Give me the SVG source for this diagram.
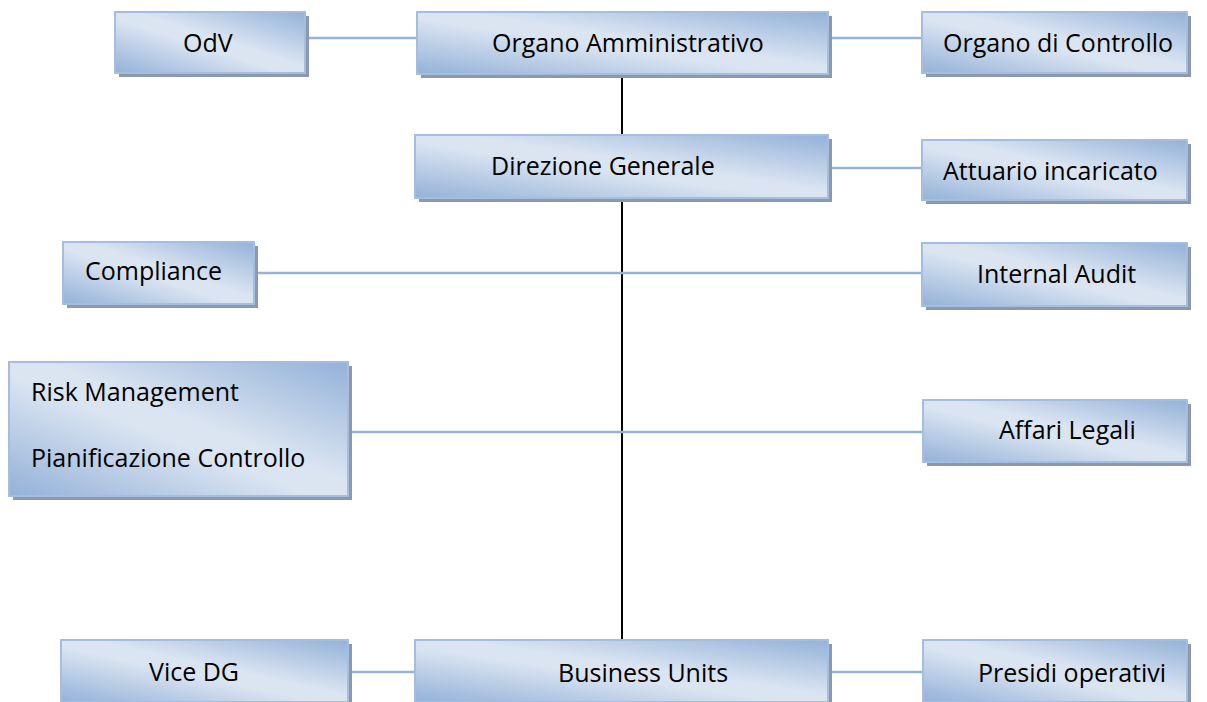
<svg xmlns="http://www.w3.org/2000/svg" width="1207" height="702" viewBox="0 0 1207 702">
  <defs>
    <!-- diagonal light-blue fill: darker at bottom-left and top-right corners -->
    <linearGradient id="boxFill" x1="0" y1="1" x2="1" y2="0">
      <stop offset="0" stop-color="#93b1d8"/>
      <stop offset="0.45" stop-color="#dbe5f2"/>
      <stop offset="0.55" stop-color="#dbe5f2"/>
      <stop offset="1" stop-color="#93b1d8"/>
    </linearGradient>
  </defs>
  <style>
    .shadow { fill: #8d99aa; }
    .box { fill: url(#boxFill); stroke: #a3bee0; stroke-width: 2; }
    .label { font-family: "Open Sans", "Liberation Sans", sans-serif; font-size: 25px; fill: #000; }
    .link { stroke: #95b3d7; stroke-width: 2.5; fill: none; }
    .trunk { stroke: #000; stroke-width: 2; fill: none; }
  </style>
  <rect width="1207" height="702" fill="#fff"/>

  <g id="connectors">
    <line class="trunk" x1="622" y1="74" x2="622" y2="640"/>
    <line class="link" x1="305" y1="38" x2="417" y2="38"/>
    <line class="link" x1="828" y1="38" x2="922" y2="38"/>
    <line class="link" x1="828" y1="168" x2="922" y2="168"/>
    <line class="link" x1="254" y1="273" x2="922" y2="273"/>
    <line class="link" x1="348" y1="432" x2="923" y2="432"/>
    <line class="link" x1="348" y1="672" x2="415" y2="672"/>
    <line class="link" x1="828" y1="672" x2="923" y2="672"/>
  </g>

  <g id="odv">
    <rect class="shadow" x="119" y="16" width="190" height="61"/>
    <rect class="box" x="115" y="12" width="190" height="61"/>
    <text class="label" x="183" y="52">OdV</text>
  </g>
  <g id="organo-amministrativo">
    <rect class="shadow" x="421" y="16" width="411" height="62"/>
    <rect class="box" x="417" y="12" width="411" height="62"/>
    <text class="label" x="492" y="52">Organo Amministrativo</text>
  </g>
  <g id="organo-controllo">
    <rect class="shadow" x="926" y="16" width="265" height="61"/>
    <rect class="box" x="922" y="12" width="265" height="61"/>
    <text class="label" x="943" y="52">Organo di Controllo</text>
  </g>
  <g id="direzione-generale">
    <rect class="shadow" x="419" y="139" width="413" height="63"/>
    <rect class="box" x="415" y="135" width="413" height="63"/>
    <text class="label" x="491" y="175">Direzione Generale</text>
  </g>
  <g id="attuario">
    <rect class="shadow" x="926" y="144" width="265" height="60"/>
    <rect class="box" x="922" y="140" width="265" height="60"/>
    <text class="label" x="943" y="180">Attuario incaricato</text>
  </g>
  <g id="compliance">
    <rect class="shadow" x="67" y="246" width="191" height="62"/>
    <rect class="box" x="63" y="242" width="191" height="62"/>
    <text class="label" x="85" y="280">Compliance</text>
  </g>
  <g id="internal-audit">
    <rect class="shadow" x="926" y="247" width="265" height="63"/>
    <rect class="box" x="922" y="243" width="265" height="63"/>
    <text class="label" x="977" y="283">Internal Audit</text>
  </g>
  <g id="risk-management">
    <rect class="shadow" x="13" y="366" width="339" height="134"/>
    <rect class="box" x="9" y="362" width="339" height="134"/>
    <text class="label" x="31" y="401">Risk Management</text>
    <text class="label" x="31" y="467">Pianificazione Controllo</text>
  </g>
  <g id="affari-legali">
    <rect class="shadow" x="927" y="404" width="264" height="62"/>
    <rect class="box" x="923" y="400" width="264" height="62"/>
    <text class="label" x="999" y="439">Affari Legali</text>
  </g>
  <g id="vice-dg">
    <rect class="shadow" x="65" y="644" width="287" height="62"/>
    <rect class="box" x="61" y="640" width="287" height="62"/>
    <text class="label" x="149" y="681">Vice DG</text>
  </g>
  <g id="business-units">
    <rect class="shadow" x="419" y="644" width="413" height="62"/>
    <rect class="box" x="415" y="640" width="413" height="62"/>
    <text class="label" x="558" y="682">Business Units</text>
  </g>
  <g id="presidi-operativi">
    <rect class="shadow" x="927" y="644" width="264" height="62"/>
    <rect class="box" x="923" y="640" width="264" height="62"/>
    <text class="label" x="978" y="682">Presidi operativi</text>
  </g>
</svg>
